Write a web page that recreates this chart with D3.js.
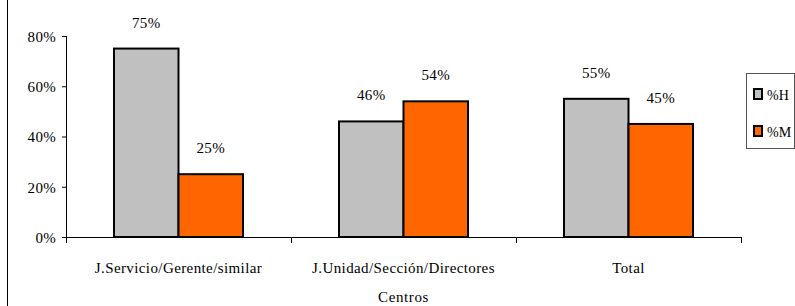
<!DOCTYPE html>
<html lang="es">
<head>
<meta charset="utf-8">
<title>Centros</title>
<script src="https://d3js.org/d3.v7.min.js"></script>
<style type="text/css">
  body { margin: 0; background: #fff; }
  svg { display: block; }
  svg text.lbl { font-family: "Liberation Serif", "DejaVu Serif", serif; font-size: 15px; fill: #000; }
</style>
</head>
<body>
<svg width="795" height="306"></svg>
<script type="text/javascript">

// data
const categories = ["J.Servicio/Gerente/similar", "J.Unidad/Sección/Directores", "Total"];
const seriesNames = ["%H", "%M"];
const valuesH = [75, 46, 55];
const valuesM = [25, 54, 45];
const yTicks = [0, 20, 40, 60, 80];
const colors = ["#C0C0C0", "#FF6600"];

const svg = d3.select("svg");
const mLeft = 66, mRight = 741, mTop = 36, mBottom = 237;

// frame edge on the left
svg.append("line")
   .attr("x1", 7.5).attr("x2", 7.5).attr("y1", 0).attr("y2", 306)
   .attr("stroke", "#000").attr("stroke-width", 1);

const x = d3.scaleBand().domain(categories).range([mLeft, mRight]).paddingInner(0).paddingOuter(0);
const xs = d3.scaleBand().domain(seriesNames).range([0, x.bandwidth()]).paddingInner(0).paddingOuter(0.744);
const y = d3.scaleLinear().domain([0, 80]).range([mBottom, mTop]);

// y axis
const yAxis = svg.append("g")
   .attr("transform", "translate(" + mLeft + ",0)")
   .call(d3.axisLeft(y).tickValues(yTicks).tickSize(4).tickPadding(6).tickFormat(d => d + "%"));
yAxis.attr("font-family", null).attr("font-size", null);
yAxis.select(".domain").attr("d", "M0.5," + mTop + "V" + (mBottom + 6)).attr("stroke", "#000");
yAxis.selectAll("text").attr("class", "lbl").attr("dy", "0.35em").attr("letter-spacing", "0.3px");

// x axis
const xAxis = svg.append("g")
   .attr("transform", "translate(0," + mBottom + ")");
xAxis.append("line").attr("x1", mLeft).attr("x2", mRight).attr("y1", 0.5).attr("y2", 0.5).attr("stroke", "#000");
xAxis.selectAll(".tk")
   .data(categories.map(c => x(c) + x.bandwidth()))
   .enter().append("line")
   .attr("x1", d => Math.round(d) + 0.5).attr("x2", d => Math.round(d) + 0.5)
   .attr("y1", 0).attr("y2", 6).attr("stroke", "#000");
xAxis.selectAll(".cl")
   .data(categories)
   .enter().append("text")
   .attr("class", "lbl")
   .attr("x", d => x(d) + x.bandwidth() / 2)
   .attr("y", 36)
   .attr("text-anchor", "middle")
   .attr("letter-spacing", "0.4px")
   .text(d => d);

svg.append("text")
   .attr("class", "lbl")
   .attr("x", (mLeft + mRight) / 2)
   .attr("y", 302)
   .attr("text-anchor", "middle")
   .attr("letter-spacing", "0.6px")
   .text("Centros");

// bars
const rows = categories.map((c, i) => ({ cat: c, vals: [valuesH[i], valuesM[i]] }));
const grp = svg.selectAll(".grp")
   .data(rows)
   .enter().append("g")
   .attr("transform", d => "translate(" + x(d.cat) + ",0)");

grp.selectAll("rect")
   .data(d => d.vals.map((v, j) => ({ s: seriesNames[j], v: v, j: j })))
   .enter().append("rect")
   .attr("x", d => xs(d.s))
   .attr("width", xs.bandwidth())
   .attr("y", d => y(d.v))
   .attr("height", d => mBottom - y(d.v))
   .attr("fill", d => colors[d.j])
   .attr("stroke", "#000")
   .attr("stroke-width", 2);

grp.selectAll(".val")
   .data(d => d.vals.map((v, j) => ({ s: seriesNames[j], v: v })))
   .enter().append("text")
   .attr("class", "lbl")
   .attr("x", d => xs(d.s) + xs.bandwidth() / 2)
   .attr("y", d => y(d.v) - 21)
   .attr("text-anchor", "middle")
   .attr("letter-spacing", "0.3px")
   .text(d => d.v + "%");

// legend
const lg = svg.append("g").attr("transform", "translate(746,73)");
lg.append("rect").attr("x", 0.5).attr("y", 0.5).attr("width", 48).attr("height", 75)
  .attr("fill", "#fff").attr("stroke", "#555").attr("stroke-width", 1);
seriesNames.forEach((s, i) => {
  lg.append("rect").attr("x", 8).attr("y", 16 + i * 37).attr("width", 8).attr("height", 10)
    .attr("fill", colors[i]).attr("stroke", "#000").attr("stroke-width", 2);
  lg.append("text").attr("class", "lbl").style("font-size", "14px")
    .attr("x", 21).attr("y", 27 + i * 37).text(s);
});

</script>
</body>
</html>
